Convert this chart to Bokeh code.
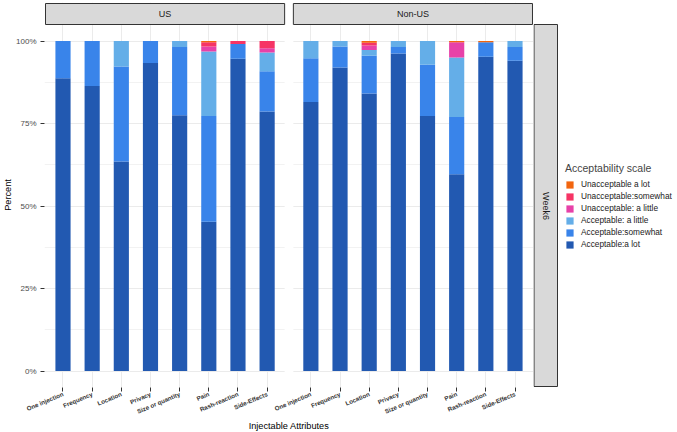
import math
from bokeh.plotting import figure
from bokeh.models import (Range1d, FixedTicker, NumeralTickFormatter, CustomJSTickFormatter,
                          Legend, LegendItem, ColumnDataSource)
from bokeh.layouts import row
from bokeh.embed import file_html
from bokeh.resources import INLINE
from bokeh.core.properties import value

# ---------------- data (percent) ----------------
regions = ["US", "Non-US"]
attributes = ["One injection", "Frequency", "Location", "Privacy",
              "Size or quantity", "Pain", "Rash-reaction", "Side-Effects"]
facet_row = "Week6"

levels = ["Acceptable:a lot", "Acceptable:somewhat", "Acceptable: a little",
          "Unacceptable: a little", "Unacceptable:somewhat", "Unacceptable a lot"]
level_keys = ["acc_lot", "acc_some", "acc_little", "unacc_little", "unacc_some", "unacc_lot"]
level_colors = ["#2259B1", "#3984EA", "#64AEE8", "#E741A8", "#F63465", "#F2650F"]

us_acc_lot      = [88.7, 86.4, 63.5, 93.3, 77.5, 45.2, 94.6, 78.6]
us_acc_some     = [11.3, 13.6, 28.8, 6.7, 20.7, 32.1, 4.5, 12.2]
us_acc_little   = [0.0, 0.0, 7.7, 0.0, 1.8, 19.5, 0.0, 5.7]
us_unacc_little = [0.0, 0.0, 0.0, 0.0, 0.0, 1.5, 0.0, 1.3]
us_unacc_some   = [0.0, 0.0, 0.0, 0.0, 0.0, 1.3, 0.9, 2.2]
us_unacc_lot    = [0.0, 0.0, 0.0, 0.0, 0.0, 0.4, 0.0, 0.0]

nus_acc_lot      = [81.5, 92.0, 84.1, 96.2, 77.3, 59.6, 95.2, 94.0]
nus_acc_some     = [13.3, 6.3, 11.4, 2.0, 15.5, 17.4, 4.4, 4.2]
nus_acc_little   = [5.2, 1.7, 1.8, 1.8, 7.2, 18.0, 0.0, 1.8]
nus_unacc_little = [0.0, 0.0, 1.3, 0.0, 0.0, 4.6, 0.0, 0.0]
nus_unacc_some   = [0.0, 0.0, 0.9, 0.0, 0.0, 0.0, 0.0, 0.0]
nus_unacc_lot    = [0.0, 0.0, 0.5, 0.0, 0.0, 0.4, 0.4, 0.0]

y_ticks = [0, 0.25, 0.5, 0.75, 1.0]
y_minor = [0.125, 0.375, 0.625, 0.875]

# ---------------- layout constants ----------------
FONT = "Liberation Sans"
TOP_PX = 2
STRIP_PX = 22
PANEL_PX = 363
PANEL_W = 239
PANEL_STEP = 8.5          # distance (in category units) between the two facet panels
SIDE_W = 145
STRIP_W = 24

n_att = len(attributes)
unit_px = PANEL_W / (n_att - 1 + 1.2)
pad = 1.0 / unit_px

# category positions (index based) for each facet
positions = [ri * PANEL_STEP + i for ri in range(len(regions)) for i in range(n_att)]
tick_labels = [a for _ in regions for a in attributes]

us_series = [us_acc_lot, us_acc_some, us_acc_little, us_unacc_little, us_unacc_some, us_unacc_lot]
nus_series = [nus_acc_lot, nus_acc_some, nus_acc_little, nus_unacc_little, nus_unacc_some, nus_unacc_lot]
data = {"xpos": positions, "region": [r for r in regions for _ in attributes], "attr": tick_labels}
for key, us_vals, nus_vals in zip(level_keys, us_series, nus_series):
    data[key] = [v / 100 for v in us_vals + nus_vals]
src = ColumnDataSource(data)

x0 = positions[0] - 0.6 - pad
x1 = positions[-1] + 0.6 + pad
frame_w = int(round((x1 - x0) * unit_px))
y0 = -0.05
y1 = 1.05 + 1.1 * STRIP_PX / PANEL_PX
px = 1.1 / PANEL_PX

p = figure(x_range=Range1d(x0, x1), y_range=Range1d(y0, y1),
           frame_width=frame_w, frame_height=STRIP_PX + PANEL_PX,
           min_border_left=43, min_border_right=0, min_border_top=TOP_PX, min_border_bottom=0,
           output_backend="svg", toolbar_location=None,
           outline_line_color=None, background_fill_color="white", border_fill_color="white")

p.vbar_stack(level_keys, x="xpos", width=0.52, source=src,
             fill_color=level_colors, line_color=None)

# white gap between the two facet panels
p.quad(left=[positions[n_att - 1] + 0.6], right=[positions[n_att] - 0.6],
       bottom=[y0], top=[y1], fill_color="white", line_color=None)

# facet strips on top
p.quad(left=[positions[ri * n_att] - 0.6 for ri in range(len(regions))],
       right=[positions[ri * n_att + n_att - 1] + 0.6 for ri in range(len(regions))],
       bottom=[1.05] * 2, top=[y1 - px] * 2,
       fill_color="#D9D9D9", line_color="#333333", line_width=1)
p.text(x=[(positions[ri * n_att] + positions[ri * n_att + n_att - 1]) / 2 for ri in range(len(regions))],
       y=[(1.05 + y1) / 2] * 2, text=regions,
       text_align="center", text_baseline="middle", text_font=value(FONT),
       text_font_size="9px", text_color="#1A1A1A")

# grids
p.xgrid.grid_line_color = "#EBEBEB"
p.ygrid.grid_line_color = "#EBEBEB"
p.ygrid.minor_grid_line_color = "#F2F2F2"

# axes
p.xaxis.ticker = FixedTicker(ticks=positions)
p.xaxis.formatter = CustomJSTickFormatter(
    args=dict(pos=positions, labels=tick_labels),
    code="""
    for (let j = 0; j < pos.length; j++) {
        if (Math.abs(pos[j] - tick) < 1e-6) { return labels[j]; }
    }
    return "";
    """)
p.yaxis.ticker = FixedTicker(ticks=y_ticks, minor_ticks=y_minor)
p.yaxis.formatter = NumeralTickFormatter(format="0%")
p.yaxis.axis_label = "Percent"
p.xaxis.axis_label = "Injectable Attributes"
for ax in (p.xaxis, p.yaxis):
    ax.axis_line_color = None
    ax.major_tick_line_color = "#333333"
    ax.major_tick_out = 4
    ax.major_tick_in = 0
    ax.minor_tick_line_color = None
    ax.axis_label_text_font = FONT
    ax.axis_label_text_font_size = "9.2px"
    ax.axis_label_text_font_style = "normal"
    ax.axis_label_text_color = "black"
    ax.major_label_text_font = FONT
p.yaxis.major_label_text_font_size = "8px"
p.yaxis.major_label_text_color = "#4D4D4D"
p.yaxis.major_label_standoff = 4
p.yaxis.axis_label_standoff = 0
p.xaxis.major_label_text_font_size = "6.2px"
p.xaxis.major_label_text_font_style = "bold"
p.xaxis.major_label_text_color = "#333333"
p.xaxis.major_label_orientation = 0.40
p.xaxis.major_label_standoff = 2
p.xaxis.axis_label_standoff = 0

# ---------------- side: row strip + legend ----------------
side = figure(x_range=Range1d(0, SIDE_W), y_range=p.y_range,
              frame_width=SIDE_W, frame_height=STRIP_PX + PANEL_PX,
              min_border_left=0, min_border_right=0, min_border_top=TOP_PX, min_border_bottom=0,
              x_axis_type=None, y_axis_type=None,
              output_backend="svg", toolbar_location=None,
              outline_line_color=None, background_fill_color="white", border_fill_color="white")
side.grid.visible = False
side.quad(left=[0.5], right=[STRIP_W], bottom=[y0 + px], top=[1.05],
          fill_color="#D9D9D9", line_color="#333333", line_width=1)
side.text(x=[STRIP_W / 2], y=[0.5], text=[facet_row], angle=-math.pi / 2,
          text_align="center", text_baseline="middle", text_font=value(FONT),
          text_font_size="9px", text_color="#1A1A1A")

# legend keys: hidden copies of the stacked bars
leg_renderers = side.vbar_stack(level_keys, x="xpos", width=0.5, source=src,
                                fill_color=level_colors, line_color=None, visible=False)
items = [LegendItem(label=lvl, renderers=[r]) for lvl, r in zip(levels, leg_renderers)][::-1]
legend = Legend(items=items, location=(32, 138), title="Acceptability scale",
                border_line_color=None, background_fill_alpha=0, padding=0, margin=0,
                spacing=2, glyph_width=9, glyph_height=9, label_height=9,
                label_standoff=7, label_text_font=FONT, label_text_font_size="8.3px",
                label_text_color="#1A1A1A", inactive_fill_alpha=0,
                title_text_font=FONT, title_text_font_size="10.5px",
                title_text_font_style="normal", title_standoff=5)
side.add_layout(legend)

layout = row(p, side)
open("out.html", "w").write(file_html(layout, INLINE))
